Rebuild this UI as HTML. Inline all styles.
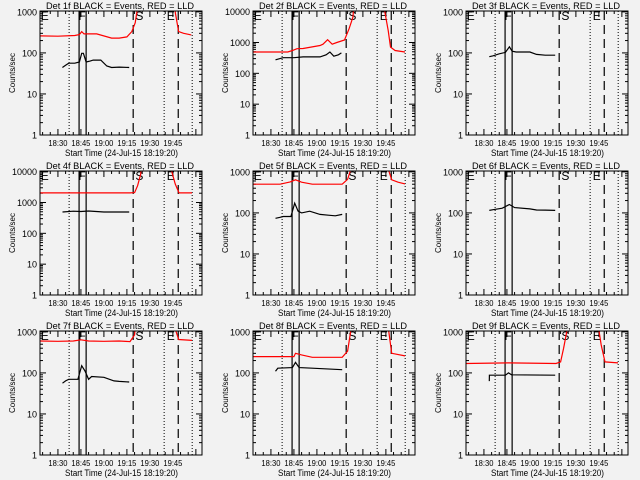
<!DOCTYPE html>
<html><head><meta charset="utf-8"><style>
html,body{margin:0;padding:0;background:#f2f2f2;}
svg{display:block;font-family:"Liberation Sans",sans-serif;}
</style></head><body>
<svg id="fig" width="640" height="480" viewBox="0 0 640 480" xmlns="http://www.w3.org/2000/svg">
<rect width="640" height="480" fill="#f2f2f2"/>
</svg>
<script>
// time in minutes after 18:00
const xTickMinutes = [30, 45, 60, 75, 90, 105];
const xTickLabels = ["18:30", "18:45", "19:00", "19:15", "19:30", "19:45"];
const dottedTimes = [37.3, 99.3, 117.6];
const solidTimes = [43.8, 48.4];
const dashedTimes = [79.1, 108.5];
const markerLabels = ["E", "F", "S", "E"];
const markerTimes = [18.8, 43.3, 80.5, 101];
const detNames = ["1f","2f","3f","4f","5f","6f","7f","8f","9f"];
const yTopValues = [1050, 10500, 1050, 10500, 1050, 1050, 1050, 1050, 1050];

const d1bt=[32.9,35,37,41,44,45.5,46.6,48.4,51,53,58,61.9,65,70,76.5];
const d1bv=[44,50,56,56,60,98,98,60,63,67,67,48,44,45,44];
const d1rt=[18.3,30,41,44,45.5,47,55.3,65,70,75,78.2,80.4,81.5,82.5];
const d1rv=[260,255,265,280,330,290,290,230,230,245,330,540,1000,20000];
const d1r2t=[105.8,106.5,108.7,112,117];
const d1r2v=[20000,1000,330,300,275];

const d2bt=[33,38,45,51,62,66,68.5,71,74,76];
const d2bv=[275,320,320,340,340,400,490,360,400,460];
const d2rt=[18.3,41,44,47,51,62,64,67,70,73,78,81,83.5,85];
const d2rv=[490,490,550,630,640,800,880,1230,880,1000,1200,2800,6600,50000];
const d2r2t=[103.8,104.3,106.5,108,111,117.5];
const d2r2v=[50000,10000,2450,710,550,490];

const d3bt=[33.5,36,40,44,46.6,48.4,51,60,64.3,70,76.5];
const d3bv=[81,85,95,103,141,110,105,105,92,88,88];
const d3rt=[];const d3rv=[];const d3r2t=[];const d3r2v=[];

const d4bt=[33,40,45,50,60,76.5];
const d4bv=[490,520,510,530,490,490];
const d4rt=[18.3,77,80,82,84,85.5];
const d4rv=[2050,2050,2100,3500,8400,50000];
const d4r2t=[104,104.3,106.5,109,117.5];
const d4r2v=[50000,10000,4000,2050,2050];

const d5bt=[33,36,38,43,45.5,47.7,50,55.3,62,67.4,72,76.5];
const d5bv=[74,78,82,82,172,110,100,110,92,88,85,92];
const d5rt=[18.3,36,42.6,46,50,57,76.5,80,81.6,82.5];
const d5rv=[500,500,570,640,560,500,500,660,1000,5000];
const d5r2t=[106.3,106.8,108.8,113,117.5];
const d5r2v=[5000,1100,640,560,510];

const d6bt=[33.5,36,42,46.6,50,60,64.3,70,76.5];
const d6bv=[115,120,130,160,135,125,118,117,115];
const d6rt=[];const d6rv=[];const d6r2t=[];const d6r2v=[];

const d7bt=[33,35,37,43,45.5,47.7,50,52,60,66.6,70,76.5];
const d7bv=[56,64,70,70,150,110,70,82,78,64,62,60];
const d7rt=[18.3,30,40,45,50,60,70,77,80,81.5];
const d7rv=[600,590,600,640,600,590,600,580,850,5000];
const d7r2t=[106.3,106.8,108.8,117.5];
const d7r2v=[5000,1100,650,620];

const d8bt=[33,34.5,44,46,48.4,57,76.5];
const d8bv=[110,130,135,180,135,130,120];
const d8rt=[18.3,45,46,50,57,76.5,80,82,83];
const d8rv=[250,250,300,275,240,240,340,1000,5000];
const d8r2t=[106.3,106.8,108.8,117.5];
const d8r2v=[5000,1100,300,260];

const d9bt=[33.5,33.6,44,46,48,76.5];
const d9bv=[63,88,88,100,90,88];
const d9rt=[18.3,46,77,80,82,84,85];
const d9rv=[170,175,170,185,400,1000,5000];
const d9r2t=[104.5,105,106.5,109,117.5];
const d9r2v=[5000,1100,480,185,175];

const panelData = [
 [d1bt,d1bv,d1rt,d1rv,d1r2t,d1r2v],[d2bt,d2bv,d2rt,d2rv,d2r2t,d2r2v],[d3bt,d3bv,d3rt,d3rv,d3r2t,d3r2v],
 [d4bt,d4bv,d4rt,d4rv,d4r2t,d4r2v],[d5bt,d5bv,d5rt,d5rv,d5r2t,d5r2v],[d6bt,d6bv,d6rt,d6rv,d6r2t,d6r2v],
 [d7bt,d7bv,d7rt,d7rv,d7r2t,d7r2v],[d8bt,d8bv,d8rt,d8rv,d8r2t,d8r2v],[d9bt,d9bv,d9rt,d9rv,d9r2t,d9r2v]
];

const NS="http://www.w3.org/2000/svg";
const svg=document.getElementById('fig');
const T0=18.3, T1=124;
function mk(tag,attrs,parent){const e=document.createElementNS(NS,tag);for(const k in attrs)e.setAttribute(k,attrs[k]);(parent||svg).appendChild(e);return e;}

for(let p=0;p<9;p++){
  const col=p%3,row=Math.floor(p/3);
  const px=col*213,py=row*160;
  const x0=px+40,x1=px+202,y0=py+11,y1=py+135;
  const ymax=yTopValues[p];
  const lmax=Math.log10(ymax);
  const xs=t=>x0+(t-T0)/(T1-T0)*(x1-x0);
  const ys=v=>y1-Math.log10(v)/lmax*(y1-y0);
  const g=mk('g',{});
  
  
  const cid='clip'+p;
  const cp=mk('clipPath',{id:cid},g);
  mk('rect',{x:x0,y:y0,width:x1-x0,height:y1-y0},cp);

  const title=mk('text',{x:px+46,y:py+9,'font-size':'9.5',textLength:'148',lengthAdjust:'spacingAndGlyphs',fill:'#000'},g);
  title.textContent='Det '+detNames[p]+' BLACK = Events, RED = LLD';
  
  

  // y ticks
  const ndec=Math.floor(lmax+1e-9);
  for(let d=0;d<=ndec;d++){
    const v=Math.pow(10,d),y=ys(v);
    mk('line',{x1:x0,y1:y,x2:x0+6,y2:y,stroke:'#000','stroke-width':1},g);
    mk('line',{x1:x1,y1:y,x2:x1-6,y2:y,stroke:'#000','stroke-width':1},g);
    const tl=mk('text',{x:x0-3,y:y+3.5,'font-size':'9','text-anchor':'end',fill:'#000'},g);
    tl.textContent=String(v);
    
    
    for(let m=2;m<=9;m++){const mv=m*v;if(mv>ymax)break;const my=ys(mv);
      mk('line',{x1:x0,y1:my,x2:x0+3,y2:my,stroke:'#000','stroke-width':1},g);
      mk('line',{x1:x1,y1:my,x2:x1-3,y2:my,stroke:'#000','stroke-width':1},g);}
  }
  // x ticks
  for(let t=20;t<=T1;t+=5){const x=xs(t);if(x<x0)continue;const L=(t%15===0)?6:3;
    mk('line',{x1:x,y1:y1,x2:x,y2:y1-L,stroke:'#000','stroke-width':1},g);
    mk('line',{x1:x,y1:y0,x2:x,y2:y0+L,stroke:'#000','stroke-width':1},g);}
  for(let i=0;i<xTickMinutes.length;i++){
    const tl=mk('text',{x:xs(xTickMinutes[i])-9.5,y:py+146,'font-size':'8',textLength:'19',lengthAdjust:'spacingAndGlyphs',fill:'#000'},g);
    tl.textContent=xTickLabels[i];
    
    
  }
  const xl=mk('text',{x:px+65,y:py+156,'font-size':'9',textLength:'113',lengthAdjust:'spacingAndGlyphs',fill:'#000'},g);
  xl.textContent='Start Time (24-Jul-15 18:19:20)';
  
  
  const yl=mk('text',{x:0,y:0,'font-size':'8','text-anchor':'middle',fill:'#000',transform:'translate('+(px+15)+','+(py+73)+') rotate(-90)'},g);
  yl.textContent='Counts/sec';
  
  

  // vertical lines
  dottedTimes.forEach(t=>mk('line',{x1:xs(t),y1:y0,x2:xs(t),y2:y1,stroke:'#000','stroke-width':1,'stroke-dasharray':'1 2'},g));
  solidTimes.forEach(t=>mk('line',{x1:xs(t),y1:y0,x2:xs(t),y2:y1,stroke:'#000','stroke-width':1.2},g));
  dashedTimes.forEach(t=>mk('line',{x1:xs(t),y1:y0,x2:xs(t),y2:y1,stroke:'#000','stroke-width':1.2,'stroke-dasharray':'9 5'},g));
  for(let i=0;i<markerLabels.length;i++){
    const ml=mk('text',{x:xs(markerTimes[i]),y:y0+9,'font-size':'12',fill:'#000'},g);
    ml.textContent=markerLabels[i];
    
    
  }

  // series
  const [bt,bv,rt,rv,r2t,r2v]=panelData[p];
  function line(ts,vs,color,name){
    if(!ts.length)return;
    const pts=ts.map((t,i)=>xs(t).toFixed(1)+','+ys(vs[i]).toFixed(1)).join(' ');
    const pl=mk('polyline',{points:pts,fill:'none',stroke:color,'stroke-width':1.2,'clip-path':'url(#'+cid+')'},g);
    
    
  }
  line(rt,rv,'#ff0000','lld-series');
  line(r2t,r2v,'#ff0000','lld-series-late');
  line(bt,bv,'#000000','events-series');

  mk('rect',{x:x0,y:y0,width:x1-x0,height:y1-y0,fill:'none',stroke:'#000','stroke-width':1},g);
}
</script>
</body></html>
